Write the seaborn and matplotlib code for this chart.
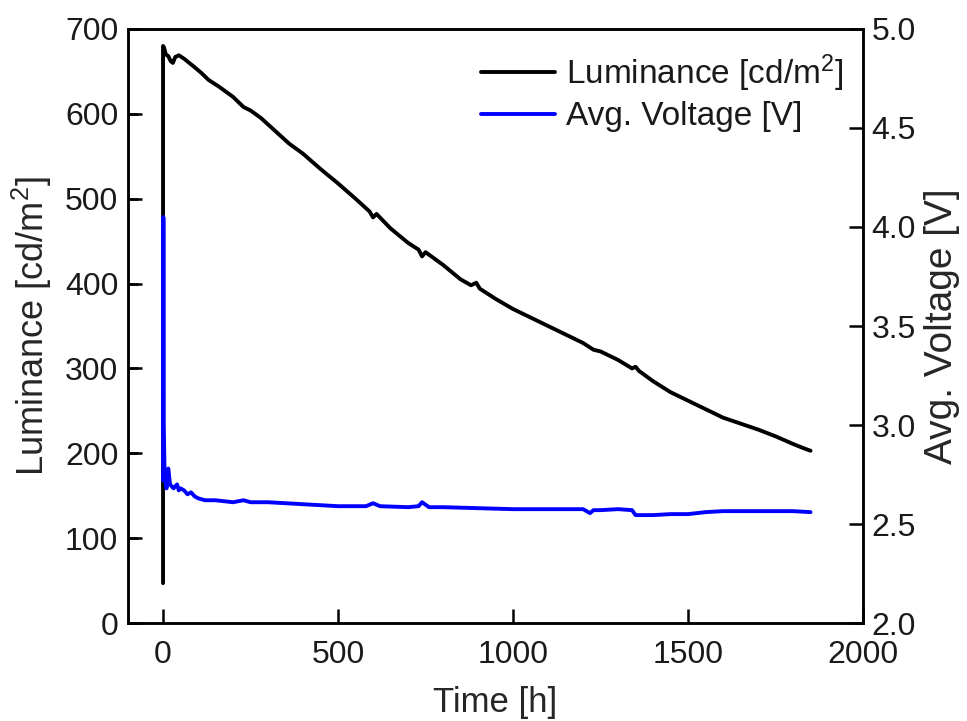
import matplotlib
matplotlib.use("Agg")
import matplotlib.pyplot as plt
import seaborn as sns
import pandas as pd

# ---- data ----
lum_time = [0, 0, 3, 8, 15, 22, 28, 35, 45, 60, 75, 90, 110, 130, 160, 200, 230, 250,
            280, 320, 360, 400, 450, 500, 550, 590, 600, 610, 650, 700, 730, 740, 750,
            800, 850, 880, 895, 905, 950, 1000, 1050, 1100, 1150, 1200, 1230, 1250, 1300,
            1340, 1350, 1360, 1400, 1450, 1500, 1550, 1600, 1650, 1700, 1750, 1800, 1830, 1850]
luminance = [47, 680, 678, 670, 668, 662, 660, 667, 669, 665, 660, 655, 648, 640, 632, 620,
             608, 604, 595, 580, 565, 553, 535, 518, 500, 485, 478, 482, 465, 448, 440, 432,
             437, 422, 405, 398, 401, 394, 382, 370, 360, 350, 340, 330, 322, 320, 310, 300,
             302, 297, 285, 272, 262, 252, 242, 235, 228, 220, 211, 206, 203]

volt_time = [0, 1, 2, 4, 6, 10, 15, 20, 25, 30, 40, 45, 50, 60, 70, 80, 90, 100, 120, 150,
             200, 230, 250, 300, 400, 500, 580, 600, 620, 700, 730, 740, 760, 800, 900, 1000,
             1100, 1200, 1220, 1230, 1250, 1300, 1340, 1350, 1400, 1450, 1500, 1550, 1600,
             1700, 1800, 1850]
voltage = [2.72, 4.05, 3.0, 2.8, 2.72, 2.68, 2.78, 2.70, 2.69, 2.68, 2.70, 2.67, 2.68, 2.67,
           2.65, 2.66, 2.64, 2.63, 2.62, 2.62, 2.61, 2.62, 2.61, 2.61, 2.60, 2.59, 2.59, 2.605,
           2.59, 2.585, 2.59, 2.61, 2.585, 2.585, 2.58, 2.575, 2.575, 2.575, 2.555, 2.57, 2.57,
           2.575, 2.57, 2.545, 2.545, 2.55, 2.55, 2.56, 2.565, 2.565, 2.565, 2.56]

x_ticks = [0, 500, 1000, 1500, 2000]
lum_ticks = [0, 100, 200, 300, 400, 500, 600, 700]
volt_ticks = [2.0, 2.5, 3.0, 3.5, 4.0, 4.5, 5.0]

lum_df = pd.DataFrame({"Time": lum_time, "Luminance": luminance})
volt_df = pd.DataFrame({"Time": volt_time, "Voltage": voltage})

# ---- style ----
sns.set_style("ticks", {"xtick.direction": "in", "ytick.direction": "in"})
plt.rcParams["font.family"] = ["Liberation Sans", "DejaVu Sans"]
plt.rcParams["mathtext.fontset"] = "custom"
plt.rcParams["mathtext.rm"] = "Liberation Sans"
plt.rcParams["mathtext.it"] = "Liberation Sans:italic"
plt.rcParams["text.color"] = "#1a1a1a"

rect = [0.1324, 0.1359, 0.7601, 0.8239]
fig = plt.figure(figsize=(9.67, 7.21), dpi=100)
ax = fig.add_axes(rect)
ax2 = ax.twinx()

sns.lineplot(data=lum_df, x="Time", y="Luminance", ax=ax, color="black", lw=2.8,
             estimator=None, sort=False, label="Luminance [cd/m$^2$]", legend=False)
sns.lineplot(data=volt_df, x="Time", y="Voltage", ax=ax2, color="#0000ff", lw=2.8,
             estimator=None, sort=False, label="Avg. Voltage [V]", legend=False)

ax.set_xlim(-100, 2000)
ax.set_ylim(0, 700)
ax2.set_ylim(2.0, 5.0)
ax.set_xticks(x_ticks)
ax.set_yticks(lum_ticks)
ax2.set_yticks(volt_ticks)
ax2.set_yticklabels([f"{v:.1f}" for v in volt_ticks])

for a in (ax, ax2):
    for s in a.spines.values():
        s.set_color("black")
        s.set_linewidth(1.8)

ax.xaxis.set_tick_params(which="major", direction="in", length=10, width=1.8,
                         color="black", labelsize=23, labelcolor="#1a1a1a", pad=12,
                         bottom=True, top=False)
ax.yaxis.set_tick_params(which="major", direction="in", length=10, width=1.8,
                         color="black", labelsize=23, labelcolor="#1a1a1a", pad=7,
                         left=True, right=False)
ax2.yaxis.set_tick_params(which="major", direction="in", length=10, width=1.8,
                          color="black", labelsize=23, labelcolor="#1a1a1a", pad=6,
                          right=True, left=False)

# left tick marks drawn explicitly at the luminance tick values (axes-fraction length)
tick_frac = 10 / (rect[2] * 967)
ax2.hlines([2.0 + (v - 0) * (5.0 - 2.0) / (700 - 0) for v in lum_ticks], 0, tick_frac,
           transform=ax2.get_yaxis_transform(), colors="black", lw=1.8, clip_on=False,
           zorder=5)

ax.set_xlabel("Time [h]", fontsize=25, labelpad=12)
ax.set_ylabel("Luminance [cd/m$^2$]", fontsize=26, labelpad=8)
ax2.set_ylabel("Avg. Voltage [V]", fontsize=28, labelpad=6)

h1, l1 = ax.get_legend_handles_labels()
h2, l2 = ax2.get_legend_handles_labels()
ax2.legend(h1 + h2, l1 + l2, loc="upper right", frameon=False, fontsize=24,
           handlelength=2.2, handletextpad=0.35, labelspacing=0.22,
           bbox_to_anchor=(1.003, 0.997), borderaxespad=0.25)

fig.savefig("out.png", dpi=100)
